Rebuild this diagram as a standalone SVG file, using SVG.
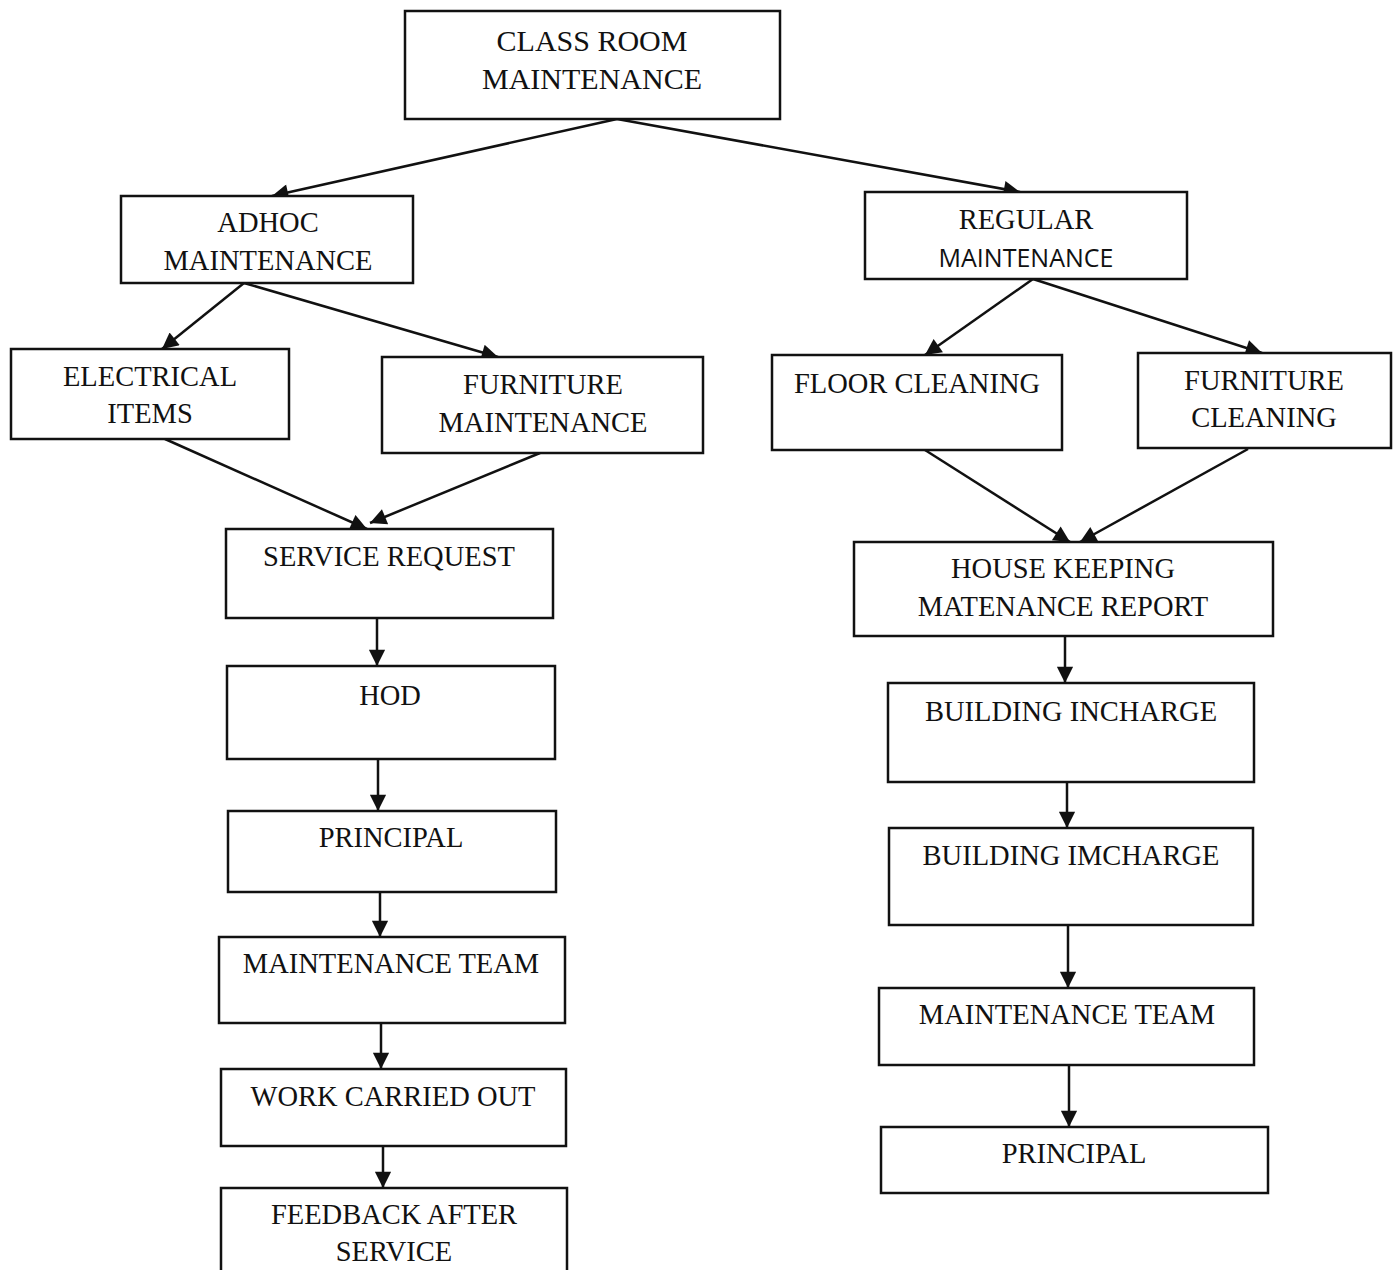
<svg xmlns="http://www.w3.org/2000/svg" width="1399" height="1270" viewBox="0 0 1399 1270">
<style>
rect{fill:#fff;stroke:#111;stroke-width:2.5}
text{font-family:"Liberation Serif","Times New Roman",serif;font-size:28.5px;fill:#111;text-anchor:middle}
text.sans{font-family:"Open Sans","Liberation Sans",sans-serif;font-size:25px}
.c line{stroke:#111;stroke-width:2.5;marker-end:url(#ah)}
</style>
<defs>
<marker id="ah" viewBox="0 0 10 10" refX="10" refY="5" markerWidth="7.5" markerHeight="6.5" markerUnits="strokeWidth" orient="auto">
<path d="M0,0L10,5L0,10z" fill="#111"/>
</marker>
</defs>
<rect x="0" y="0" width="1399" height="1270" style="stroke:none"/>
<g class="c" id="connectors">
<line x1="617" y1="119" x2="272" y2="196"/>
<line x1="617" y1="119" x2="1020" y2="192"/>
<line x1="244" y1="283" x2="162" y2="349"/>
<line x1="244" y1="283" x2="498" y2="357"/>
<line x1="1033" y1="279" x2="925" y2="355"/>
<line x1="1033" y1="279" x2="1262" y2="353"/>
<line x1="165" y1="439" x2="367" y2="529"/>
<line x1="540" y1="453" x2="370" y2="523"/>
<line x1="925" y1="450" x2="1070" y2="542"/>
<line x1="1248" y1="449" x2="1080" y2="542"/>
<line x1="377" y1="618" x2="377" y2="666"/>
<line x1="378" y1="759" x2="378" y2="811"/>
<line x1="380" y1="892" x2="380" y2="937"/>
<line x1="381" y1="1023" x2="381" y2="1069"/>
<line x1="383" y1="1146" x2="383" y2="1188"/>
<line x1="1065" y1="636" x2="1065" y2="683"/>
<line x1="1067" y1="782" x2="1067" y2="828"/>
<line x1="1068" y1="925" x2="1068" y2="988"/>
<line x1="1069" y1="1065" x2="1069" y2="1127"/>
</g>
<g id="n-classroom"><rect x="405" y="11" width="375" height="108"/><text x="592" y="51" style="font-size:30px">CLASS ROOM</text><text x="592" y="89" style="font-size:30px">MAINTENANCE</text></g>
<g id="n-adhoc"><rect x="121" y="196" width="292" height="87"/><text x="268" y="232">ADHOC</text><text x="268" y="270">MAINTENANCE</text></g>
<g id="n-regular"><rect x="865" y="192" width="322" height="87"/><text x="1026" y="229">REGULAR</text><text class="sans" x="1026" y="267">MAINTENANCE</text></g>
<g id="n-electrical"><rect x="11" y="349" width="278" height="90"/><text x="150" y="386">ELECTRICAL</text><text x="150" y="423">ITEMS</text></g>
<g id="n-furnmaint"><rect x="382" y="357" width="321" height="96"/><text x="543" y="394">FURNITURE</text><text x="543" y="432">MAINTENANCE</text></g>
<g id="n-floor"><rect x="772" y="355" width="290" height="95"/><text x="917" y="393">FLOOR CLEANING</text></g>
<g id="n-furnclean"><rect x="1138" y="353" width="253" height="95"/><text x="1264" y="390">FURNITURE</text><text x="1264" y="427">CLEANING</text></g>
<g id="n-service"><rect x="226" y="529" width="327" height="89"/><text x="389" y="566">SERVICE REQUEST</text></g>
<g id="n-hod"><rect x="227" y="666" width="328" height="93"/><text x="390" y="705">HOD</text></g>
<g id="n-principal-l"><rect x="228" y="811" width="328" height="81"/><text x="391" y="847">PRINCIPAL</text></g>
<g id="n-team-l"><rect x="219" y="937" width="346" height="86"/><text x="391" y="973">MAINTENANCE TEAM</text></g>
<g id="n-work"><rect x="221" y="1069" width="345" height="77"/><text x="393" y="1106">WORK CARRIED OUT</text></g>
<g id="n-feedback"><rect x="221" y="1188" width="346" height="100"/><text x="394" y="1224">FEEDBACK AFTER</text><text x="394" y="1261">SERVICE</text></g>
<g id="n-housekeeping"><rect x="854" y="542" width="419" height="94"/><text x="1063" y="578">HOUSE KEEPING</text><text x="1063" y="616">MATENANCE REPORT</text></g>
<g id="n-building1"><rect x="888" y="683" width="366" height="99"/><text x="1071" y="721">BUILDING INCHARGE</text></g>
<g id="n-building2"><rect x="889" y="828" width="364" height="97"/><text x="1071" y="865">BUILDING IMCHARGE</text></g>
<g id="n-team-r"><rect x="879" y="988" width="375" height="77"/><text x="1067" y="1024">MAINTENANCE TEAM</text></g>
<g id="n-principal-r"><rect x="881" y="1127" width="387" height="66"/><text x="1074" y="1163">PRINCIPAL</text></g>
</svg>
